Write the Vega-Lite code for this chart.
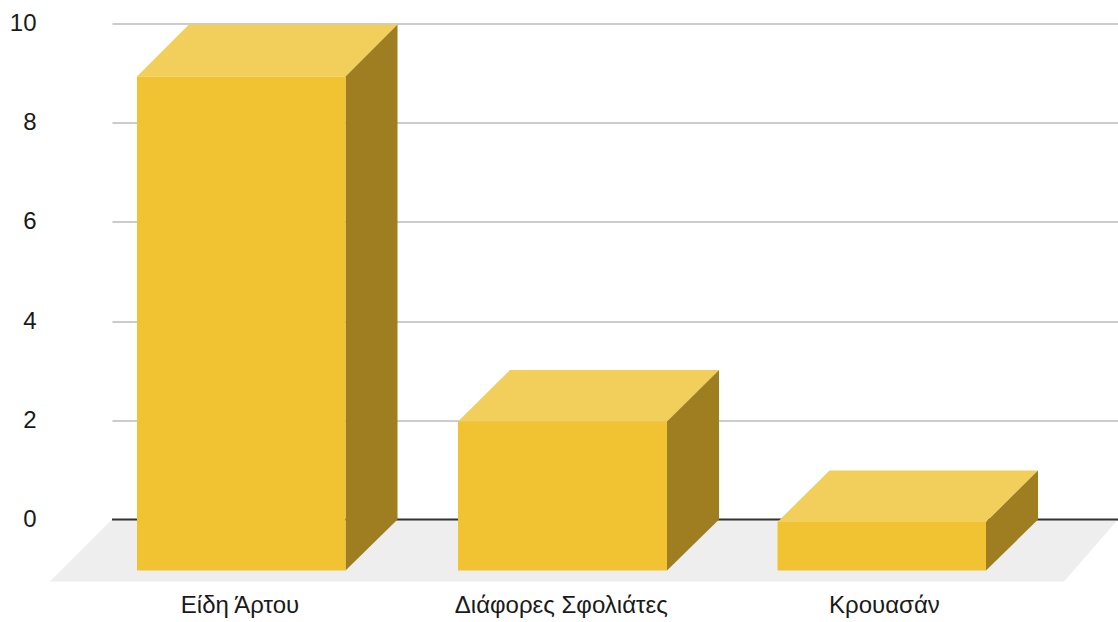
{
"$schema":"https://vega.github.io/schema/vega-lite/v6.json",
"width":1006,"height":558,
"autosize":{"type":"none"},
"padding":{"left":112,"top":23.5,"right":0,"bottom":40.5},
"background":"#ffffff",
"config":{"view":{"stroke":null},"font":"Liberation Sans"},
"datasets":{
"faces":[
{"shape":"floor","face":"floor","x":-0.5977,"y":-1.25,"y2":-1.25},
{"shape":"floor","face":"floor","x":-0.4039,"y":0,"y2":-1.25},
{"shape":"floor","face":"floor","x":2.5711,"y":0,"y2":-1.25},
{"shape":"floor","face":"floor","x":2.7398,"y":0,"y2":0}
],
"bars":[
{"shape":"a-top","face":"top","x":-0.3258,"y":8.93,"y2":8.93},
{"shape":"a-top","face":"top","x":-0.1633,"y":9.98,"y2":8.93},
{"shape":"a-top","face":"top","x":0.3258,"y":9.98,"y2":8.93},
{"shape":"a-top","face":"top","x":0.4883,"y":9.98,"y2":9.98},
{"shape":"a-side","face":"side","x":0.3258,"y":8.93,"y2":-1.03},
{"shape":"a-side","face":"side","x":0.4883,"y":9.98,"y2":0},
{"shape":"a-front","face":"front","x":-0.3258,"y":8.93,"y2":-1.03},
{"shape":"a-front","face":"front","x":0.3258,"y":8.93,"y2":-1.03},
{"shape":"b-top","face":"top","x":0.6773,"y":1.976,"y2":1.976},
{"shape":"b-top","face":"top","x":0.8398,"y":3.014,"y2":1.976},
{"shape":"b-top","face":"top","x":1.3305,"y":3.014,"y2":1.976},
{"shape":"b-top","face":"top","x":1.493,"y":3.014,"y2":3.014},
{"shape":"b-side","face":"side","x":1.3305,"y":1.976,"y2":-1.03},
{"shape":"b-side","face":"side","x":1.493,"y":3.014,"y2":0},
{"shape":"b-front","face":"front","x":0.6773,"y":1.976,"y2":-1.03},
{"shape":"b-front","face":"front","x":1.3305,"y":1.976,"y2":-1.03},
{"shape":"c-top","face":"top","x":1.6758,"y":-0.05,"y2":-0.05},
{"shape":"c-top","face":"top","x":1.8383,"y":0.988,"y2":-0.05},
{"shape":"c-top","face":"top","x":2.3273,"y":0.988,"y2":-0.05},
{"shape":"c-top","face":"top","x":2.4898,"y":0.988,"y2":0.988},
{"shape":"c-side","face":"side","x":2.3273,"y":-0.05,"y2":-1.03},
{"shape":"c-side","face":"side","x":2.4898,"y":0.988,"y2":0},
{"shape":"c-front","face":"front","x":1.6758,"y":-0.05,"y2":-1.03},
{"shape":"c-front","face":"front","x":2.3273,"y":-0.05,"y2":-1.03}
],
"labels":[
{"label":"Είδη Άρτου","x":-0.004,"y":-1.75},
{"label":"Διάφορες Σφολιάτες","x":1.0,"y":-1.75},
{"label":"Κρουασάν","x":2.01,"y":-1.75}
]
},
"encoding":{
"x":{"field":"x","type":"quantitative","scale":{"domain":[-0.4039,2.7398],"nice":false,"zero":false},"axis":null},
"y":{"field":"y","type":"quantitative","scale":{"domain":[-1.25,10],"nice":false,"zero":false},
"axis":{"title":null,"values":[0,2,4,6,8,10],"domain":false,"ticks":false,"labelPadding":76,"labelFontSize":24,"labelColor":"#1a1a1a","labelFont":"Liberation Sans","gridColor":"#cccccc","gridWidth":2,"grid":true}}
},
"layer":[
{"data":{"name":"faces"},"mark":{"type":"area","orient":"vertical","color":"#eeeeee"},
"encoding":{"y2":{"field":"y2"},"detail":{"field":"shape"}}},
{"data":{"values":[{"y":0}]},"mark":{"type":"rule","color":"#333333","strokeWidth":2},
"encoding":{"x":{"value":0},"x2":{"value":1006}}},
{"data":{"name":"bars"},"mark":{"type":"area","orient":"vertical"},
"encoding":{"y2":{"field":"y2"},"detail":{"field":"shape"},
"color":{"field":"face","type":"nominal","legend":null,"scale":{"domain":["front","top","side"],"range":["#f1c232","#f2ce5b","#9e7e21"]}}}},
{"data":{"name":"labels"},"mark":{"type":"text","fontSize":24,"color":"#1a1a1a","align":"center","baseline":"middle","font":"Liberation Sans"},
"encoding":{"text":{"field":"label"}}}
]
}
